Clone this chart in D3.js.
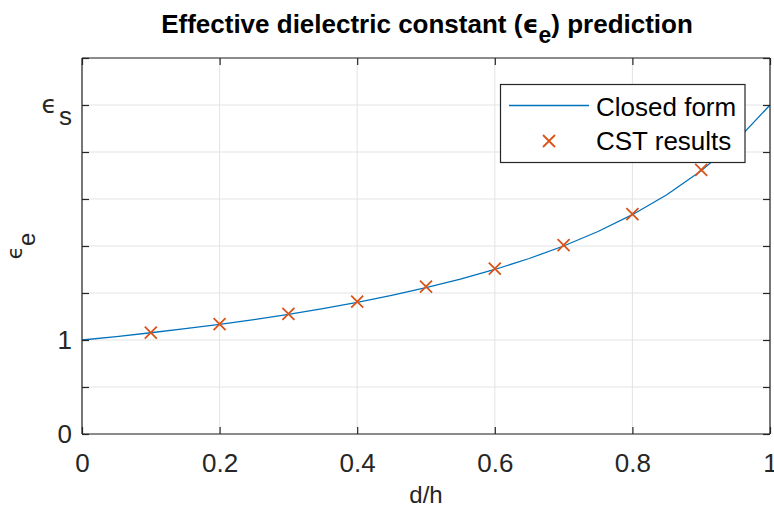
<!DOCTYPE html>
<html><head><meta charset="utf-8">
<script src="https://cdn.jsdelivr.net/npm/d3@7"></script>
<style>
body{margin:0;background:#fff;}
svg{display:block;font-family:"Liberation Sans",Arial,Helvetica,sans-serif;}
</style></head>
<body>
<svg id="chart" width="774" height="514"></svg>
<script>
// ---- data ----
const closedX = [0,0.05,0.1,0.15,0.2,0.25,0.3,0.35,0.4,0.45,0.5,0.55,0.6,0.65,0.7,0.75,0.8,0.85,0.9,0.95,1];
const closedY = [1,1.037,1.077,1.12,1.167,1.217,1.273,1.333,1.4,1.474,1.556,1.647,1.75,1.867,2,2.154,2.333,2.545,2.8,3.111,3.5];
const cstX = [0.1,0.2,0.3,0.4,0.5,0.6,0.7,0.8,0.9];
const cstY = [1.078,1.17,1.277,1.408,1.567,1.759,2.01,2.34,2.81];
const xTicks = [0,0.2,0.4,0.6,0.8,1];
const xTickLabels = ["0","0.2","0.4","0.6","0.8","1"];
const yTicks = [0,0.5,1,1.5,2,2.5,3,3.5,4];
const yTickLabels = ["0","","1","","","","","ϵs",""];
const seriesNames = ["Closed form","CST results"];
const titleText = "Effective dielectric constant (ϵe) prediction";

const svg = d3.select("#chart");
const L=82,R=770,T=58,B=434;
const x = d3.scaleLinear().domain([0,1]).range([L,R]);
const y = d3.scaleLinear().domain([0,4]).range([B,T]);
const axisCol="#262626", gridCol="#e3e3e3";
const blue="#0072BD", orange="#D95319";
const symFont="DejaVu Sans, sans-serif";

// grid
const g = svg.append("g");
g.selectAll(".gx").data(xTicks).join("line")
  .attr("x1",d=>x(d)).attr("x2",d=>x(d)).attr("y1",T).attr("y2",B)
  .attr("stroke",gridCol).attr("stroke-width",1);
g.selectAll(".gy").data(yTicks).join("line")
  .attr("y1",d=>y(d)).attr("y2",d=>y(d)).attr("x1",L).attr("x2",R)
  .attr("stroke",gridCol).attr("stroke-width",1);

// data line
const line = d3.line().x((d,i)=>x(closedX[i])).y(d=>y(d));
svg.append("path").datum(closedY).attr("d",line)
  .attr("fill","none").attr("stroke",blue).attr("stroke-width",1.3);

// markers
const ms=6;
function cross(sel,cx,cy){
  sel.append("path").attr("d",`M${cx-ms},${cy-ms}L${cx+ms},${cy+ms}M${cx-ms},${cy+ms}L${cx+ms},${cy-ms}`)
   .attr("stroke",orange).attr("stroke-width",1.8).attr("fill","none");
}
const mg = svg.append("g");
cstX.forEach((v,i)=>cross(mg,x(v),y(cstY[i])));

// axes using d3 axis generators (ticks inward)
const tl=7;
const xAxisB = d3.axisBottom(x).tickValues(xTicks).tickSize(-tl).tickFormat((d,i)=>xTickLabels[i]).tickPadding(20);
const xAxisT = d3.axisTop(x).tickValues(xTicks).tickSize(-tl).tickFormat("");
const yAxisL = d3.axisLeft(y).tickValues(yTicks).tickSize(-tl).tickFormat("");
const yAxisR = d3.axisRight(y).tickValues(yTicks).tickSize(-tl).tickFormat("");
function style(a){
  a.select(".domain").attr("stroke",axisCol).attr("stroke-width",1.2);
  a.selectAll(".tick line").attr("stroke",axisCol).attr("stroke-width",1.2);
  a.selectAll("text").attr("fill",axisCol).attr("font-size",26).attr("font-family","Liberation Sans, Arial, sans-serif");
}
const gxb = svg.append("g").attr("transform",`translate(0,${B})`).call(xAxisB); style(gxb);
gxb.selectAll(".domain").attr("d",`M${L},0H${R}`);
const gxt = svg.append("g").attr("transform",`translate(0,${T})`).call(xAxisT); style(gxt);
gxt.selectAll(".domain").attr("d",`M${L},0H${R}`);
const gyl = svg.append("g").attr("transform",`translate(${L},0)`).call(yAxisL); style(gyl);
gyl.selectAll(".domain").attr("d",`M0,${B}V${T}`);
const gyr = svg.append("g").attr("transform",`translate(${R},0)`).call(yAxisR); style(gyr);
gyr.selectAll(".domain").attr("d",`M0,${B}V${T}`);

// y tick labels (with subscript support)
yTicks.forEach((v,i)=>{
  const lab=yTickLabels[i]; if(!lab) return;
  const t=svg.append("text").attr("x",L-10).attr("y",y(v)+9).attr("text-anchor","end")
    .attr("fill",axisCol).attr("font-size",26);
  if(lab.length===2){
    t.attr("y",y(v)+8);
    t.append("tspan").text(lab[0]).attr("font-size",25).attr("font-family",symFont);
    t.append("tspan").text(lab[1]).attr("dy",12).attr("dx",2);
  } else t.text(lab);
});

// title
const tt = svg.append("text").attr("x",427).attr("y",33).attr("text-anchor","middle")
  .attr("font-weight","bold").attr("font-size",26).attr("fill","#000");
const ti = titleText.indexOf("ϵ");
tt.append("tspan").text(titleText.slice(0,ti));
tt.append("tspan").text(titleText[ti]).attr("font-family",symFont).attr("font-size",25);
tt.append("tspan").text(titleText[ti+1]).attr("dy",10).attr("font-size",23);
tt.append("tspan").text(titleText.slice(ti+2)).attr("dy",-10);

// axis labels
svg.append("text").attr("x",426).attr("y",503).attr("text-anchor","middle")
  .attr("font-size",24).attr("fill",axisCol).text("d/h");
const yl = svg.append("text").attr("transform","translate(22,246) rotate(-90)")
  .attr("text-anchor","middle").attr("font-size",24).attr("fill",axisCol);
yl.append("tspan").text("ϵ").attr("font-size",22).attr("font-family",symFont);
yl.append("tspan").text("e").attr("dy",13);

// legend
const lg = svg.append("g");
lg.append("rect").attr("x",500.5).attr("y",84.5).attr("width",244.5).attr("height",78)
  .attr("fill","#fff").attr("stroke",axisCol).attr("stroke-width",1.2);
lg.append("line").attr("x1",509).attr("x2",589).attr("y1",105.5).attr("y2",105.5)
  .attr("stroke",blue).attr("stroke-width",1.3);
cross(lg,549,141);
lg.append("text").attr("x",596).attr("y",116).attr("font-size",26).attr("fill","#000").text(seriesNames[0]);
lg.append("text").attr("x",596).attr("y",150).attr("font-size",26).attr("fill","#000").text(seriesNames[1]);
</script>
</body></html>
